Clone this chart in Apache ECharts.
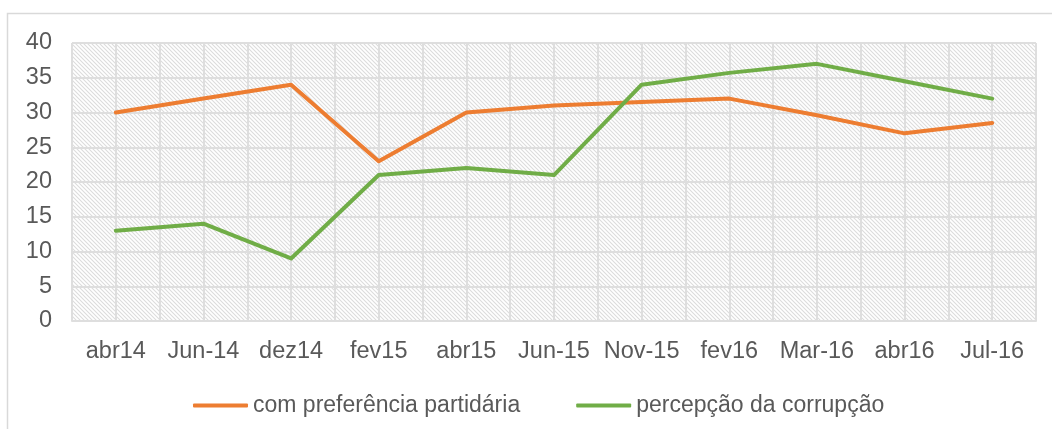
<!DOCTYPE html>
<html>
<head>
<meta charset="utf-8">
<script src="https://cdn.jsdelivr.net/npm/echarts@6/dist/echarts.min.js"></script>
<style>
  html, body { margin: 0; padding: 0; background: #fff; }
  #chart { width: 1052px; height: 429px; }
</style>
</head>
<body>
<div id="chart"></div>
<script>
// Datos del gráfico
var categories = ['abr14', 'Jun-14', 'dez14', 'fev15', 'abr15', 'Jun-15', 'Nov-15', 'fev16', 'Mar-16', 'abr16', 'Jul-16'];
var preferencia = [30, 32, 34, 23, 30, 31, 31.5, 32, 29.6, 27, 28.5];
var corrupcao = [13, 14, 9, 21, 22, 21, 34, 35.7, 37, 34.5, 32];

// Fondo rayado del área de trazado
function hatchPattern() {
    var c = document.createElement('canvas');
    c.width = 4;
    c.height = 4;
    var ctx = c.getContext('2d');
    ctx.fillStyle = '#ffffff';
    ctx.fillRect(0, 0, 4, 4);
    ctx.strokeStyle = '#dcdcdc';
    ctx.lineWidth = 1.1;
    ctx.beginPath();
    ctx.moveTo(-1, -1); ctx.lineTo(5, 5);
    ctx.moveTo(-1, 3); ctx.lineTo(1, 5);
    ctx.moveTo(3, -1); ctx.lineTo(5, 1);
    ctx.stroke();
    return c;
}

var chart = echarts.init(document.getElementById('chart'));
var font = '"Liberation Sans", Arial, sans-serif';
var gridColor = '#dedede';
var textColor = '#595959';

var option = {
    animation: false,
    graphic: [{
        type: 'rect',
        shape: { x: 7.5, y: 13.5, width: 1100, height: 500 },
        style: { fill: 'none', stroke: '#d9d9d9', lineWidth: 1.5 },
        z: -1
    }],
    grid: {
        left: 72, right: 16, top: 43, bottom: 108,
        show: true,
        borderWidth: 0,
        backgroundColor: { image: hatchPattern(), repeat: 'repeat' }
    },
    legend: {
        top: 389,
        left: 188,
        icon: 'roundRect',
        itemWidth: 55,
        itemHeight: 4,
        itemGap: 56,
        textStyle: { fontFamily: font, fontSize: 23, color: textColor },
        data: ['com preferência partidária', 'percepção da corrupção']
    },
    xAxis: [{
        type: 'category',
        data: categories,
        boundaryGap: true,
        axisLine: { show: true, lineStyle: { color: gridColor, width: 2 } },
        axisTick: { show: false },
        axisLabel: { interval: 0, hideOverlap: false, fontFamily: font, fontSize: 23.5, color: textColor, margin: 19 },
        splitLine: { show: false }
    }, {
        // líneas verticales cada media categoría
        type: 'value',
        min: 0, max: categories.length * 2, interval: 1,
        position: 'bottom',
        axisLine: { show: false },
        axisTick: { show: false },
        axisLabel: { show: false },
        splitLine: { show: true, lineStyle: { color: gridColor, width: 2 } }
    }],
    yAxis: {
        type: 'value',
        min: 0, max: 40, interval: 5,
        axisLine: { show: false },
        axisTick: { show: false },
        axisLabel: { fontFamily: font, fontSize: 23.5, color: textColor, margin: 20 },
        splitLine: { show: true, lineStyle: { color: gridColor, width: 2 } }
    },
    series: [{
        name: 'com preferência partidária',
        type: 'line',
        data: preferencia,
        symbol: 'none',
        color: '#ED7D31',
        lineStyle: { width: 4, cap: 'round', join: 'round' }
    }, {
        name: 'percepção da corrupção',
        type: 'line',
        data: corrupcao,
        symbol: 'none',
        color: '#70AD47',
        lineStyle: { width: 4, cap: 'round', join: 'round' }
    }]
};

chart.setOption(option);
</script>
</body>
</html>
